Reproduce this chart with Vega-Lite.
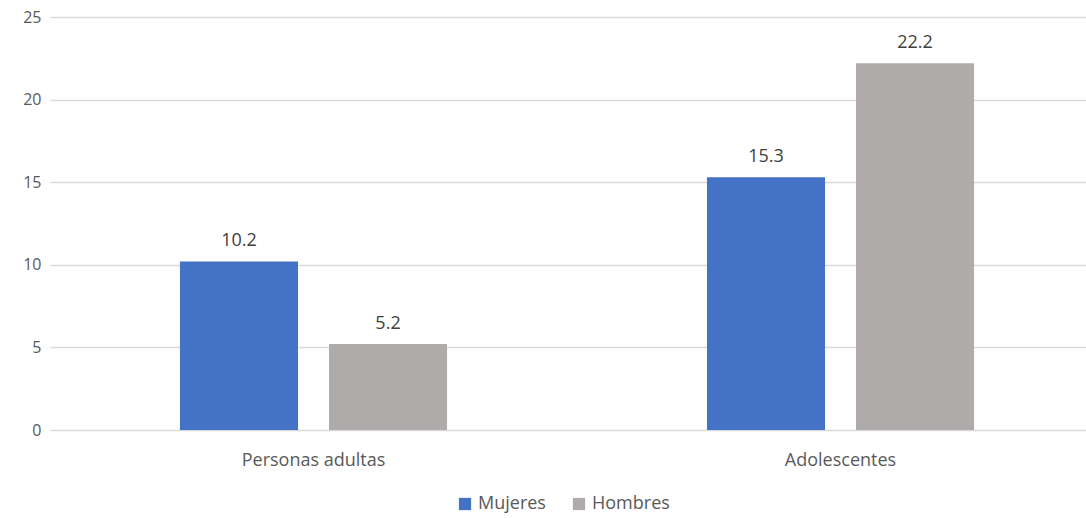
{
  "$schema": "https://vega.github.io/schema/vega-lite/v6.json",
  "width": 1054,
  "height": 413,
  "autosize": {"type": "none"},
  "padding": {"left": 50, "top": 17, "right": 0, "bottom": 88},
  "background": "white",
  "config": {
    "view": {"stroke": null},
    "font": "Open Sans",
    "axis": {"labelFont": "Open Sans", "labelColor": "#595959"}
  },
  "data": {
    "values": [
      {"grupo": "Personas adultas", "sexo": "Mujeres", "valor": 10.2},
      {"grupo": "Personas adultas", "sexo": "Hombres", "valor": 5.2},
      {"grupo": "Adolescentes", "sexo": "Mujeres", "valor": 15.3},
      {"grupo": "Adolescentes", "sexo": "Hombres", "valor": 22.2}
    ]
  },
  "encoding": {
    "x": {
      "field": "grupo",
      "type": "nominal",
      "sort": ["Personas adultas", "Adolescentes"],
      "scale": {"paddingInner": 0, "paddingOuter": 0},
      "axis": {"title": null, "labelAngle": 0, "ticks": false, "domain": false, "labelFontSize": 18, "labelPadding": 21}
    },
    "xOffset": {
      "field": "sexo",
      "type": "nominal",
      "sort": ["Mujeres", "Hombres"],
      "scale": {"paddingInner": 0.208, "paddingOuter": 0.872}
    },
    "y": {
      "field": "valor",
      "type": "quantitative",
      "scale": {"domain": [0, 25]},
      "axis": {"title": null, "values": [0, 5, 10, 15, 20, 25], "ticks": false, "domain": false, "labelFontSize": 16, "labelPadding": 9, "gridColor": "#d9d9d9", "gridWidth": 1.5}
    }
  },
  "layer": [
    {
      "mark": {"type": "bar"},
      "encoding": {
        "color": {
          "field": "sexo",
          "type": "nominal",
          "sort": ["Mujeres", "Hombres"],
          "scale": {"domain": ["Mujeres", "Hombres"], "range": ["#4472C4", "#AFABAB"]},
          "legend": {
            "title": null,
            "orient": "none",
            "direction": "horizontal",
            "legendX": 406,
            "legendY": 478,
            "symbolType": "square",
            "symbolSize": 150,
            "symbolStrokeWidth": 0,
            "labelFontSize": 18,
            "labelColor": "#595959",
            "labelFont": "Open Sans",
            "columnPadding": 24
          }
        }
      }
    },
    {
      "mark": {"type": "text", "baseline": "bottom", "dy": -11, "fontSize": 18, "color": "#404040"},
      "encoding": {
        "text": {"field": "valor", "type": "quantitative", "format": ".1f"}
      }
    }
  ]
}
